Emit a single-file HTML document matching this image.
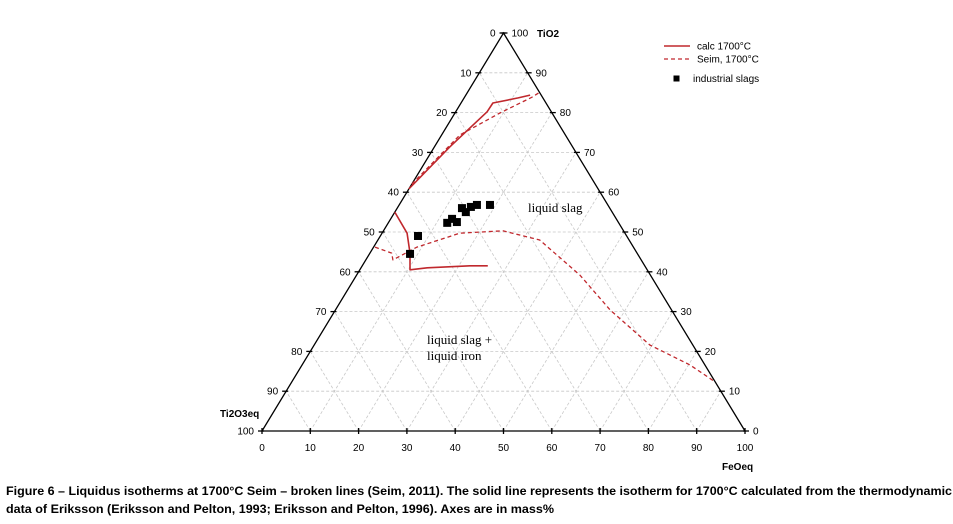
<!DOCTYPE html>
<html><head><meta charset="utf-8"><style>
body{margin:0;background:#fff;width:953px;height:519px;overflow:hidden}
svg text{font-family:"Liberation Sans",sans-serif}
</style></head><body>
<svg id="chart" width="953" height="519" xmlns="http://www.w3.org/2000/svg">
<g id="grid"></g>
<g id="axes"></g>
<g id="series"></g>
<g font-size="10">
<line x1="664" y1="46" x2="690" y2="46" stroke="#c0282d" stroke-width="1.6"/>
<text x="697" y="49.5">calc 1700°C</text>
<line x1="664" y1="59" x2="690" y2="59" stroke="#c0282d" stroke-width="1.3" stroke-dasharray="4,3"/>
<text x="697" y="62.5">Seim, 1700°C</text>
<rect x="673.5" y="75.5" width="6" height="6" fill="#000"/>
<text x="693" y="82">industrial slags</text>
</g>
<text x="528" y="212" font-size="13" style="font-family:'Liberation Serif',serif">liquid slag</text>
<text x="427" y="344" font-size="13" style="font-family:'Liberation Serif',serif">liquid slag +</text>
<text x="427" y="360" font-size="13" style="font-family:'Liberation Serif',serif">liquid iron</text>
<text x="537" y="37" font-size="10" font-weight="bold">TiO2</text>
<text x="220" y="417" font-size="10" font-weight="bold">Ti2O3eq</text>
<text x="722" y="470" font-size="10" font-weight="bold">FeOeq</text>
<text x="6" y="495" font-size="11.5" font-weight="bold" textLength="946" lengthAdjust="spacingAndGlyphs">Figure 6 – Liquidus isotherms at 1700°C Seim – broken lines (Seim, 2011). The solid line represents the isotherm for 1700°C calculated from the thermodynamic</text>
<text x="6" y="513" font-size="11.5" font-weight="bold" textLength="548" lengthAdjust="spacingAndGlyphs">data of Eriksson (Eriksson and Pelton, 1993; Eriksson and Pelton, 1996).  Axes are in mass%</text>
</svg>
<script>
const ticks=[0,10,20,30,40,50,60,70,80,90,100];
const calcUpperFeO=[0,3.2,6.5,6.6,11.2,13.3];
const calcUpperTiO2=[60.8,71.4,80.2,82.4,83.7,84.4];
const seimUpperFeO=[0,3.8,9.3,14,15];
const seimUpperTiO2=[62,74.4,79.9,83.9,85.2];
const calcLowerFeO=[0,5.2,8.3,10.4,13.7,22.3,26];
const calcLowerTiO2=[55,49.7,44.7,40.5,41,41.5,41.5];
const seimLowerFeO=[0.3,4.5,5.6,9,16.1,24.7,33.5,46.2,56.9,69.5,80.3,87.7];
const seimLowerTiO2=[46.2,44.7,43,46.2,49.7,50.3,48,39.2,30.4,21.6,16.6,12.3];
const slagFeO=[8.4,7.8,12.2,12.7,14.1,13.4,14.7,15.1,16.1,18.8];
const slagTiO2=[44.5,49,52.3,53.3,52.5,56,55,56.3,56.8,56.8];

const L=262,R=745,B=431,T=33,W=R-L,H=B-T;
function px(f,t){return L+f*W/100+t*W/200;}
function py(f,t){return B-t*H/100;}
const NS='http://www.w3.org/2000/svg';
function mk(tag,attrs,parent){const e=document.createElementNS(NS,tag);for(const k in attrs)e.setAttribute(k,attrs[k]);parent.appendChild(e);return e;}
const grid=document.getElementById('grid'),axes=document.getElementById('axes'),series=document.getElementById('series');
const gs={stroke:'#c8c8c8','stroke-width':0.8,'stroke-dasharray':'3,2',fill:'none'};
for(let i=1;i<10;i++){const v=ticks[i];
 let a=mk('line',Object.assign({x1:px(0,v),y1:py(0,v),x2:px(100-v,v),y2:py(100-v,v)},gs),grid);
 
 let b=mk('line',Object.assign({x1:px(v,0),y1:py(v,0),x2:px(v,100-v),y2:py(v,100-v)},gs),grid);
 
 let c=mk('line',Object.assign({x1:px(100-v,0),y1:py(100-v,0),x2:px(0,100-v),y2:py(0,100-v)},gs),grid);
 
}
const tri=mk('polygon',{points:`${L},${B} ${R},${B} ${px(0,100)},${T}`,fill:'none',stroke:'#000','stroke-width':1.3},axes);


ticks.forEach(v=>{
 let x=px(v,0);
 let tk=mk('line',{x1:x,y1:B-3,x2:x,y2:B+3,stroke:'#000','stroke-width':1.3},axes);
 
 let t=mk('text',{x:x,y:B+20,'font-size':10,'text-anchor':'middle'},axes);t.textContent=v;
 
 let tl=100-v, ly=py(0,tl), lx=px(0,tl);
 let tk2=mk('line',{x1:lx-4,y1:ly,x2:lx+2,y2:ly,stroke:'#000','stroke-width':1.3},axes);
 
 let t2=mk('text',{x:lx-8,y:ly+3.5,'font-size':10,'text-anchor':'end'},axes);t2.textContent=v;
 
 let rx=px(100-v,v), ry=py(100-v,v);
 let tk3=mk('line',{x1:rx-2,y1:ry,x2:rx+4,y2:ry,stroke:'#000','stroke-width':1.3},axes);
 
 let t3=mk('text',{x:rx+8,y:ry+3.5,'font-size':10},axes);t3.textContent=v;
 
});
function line(F,Tt,dash,name){
 const d=F.map((f,i)=>(i?'L':'M')+px(f,Tt[i]).toFixed(1)+','+py(f,Tt[i]).toFixed(1)).join(' ');
 const p=mk('path',{d:d,fill:'none',stroke:'#c0282d','stroke-width':dash?1.3:1.6,'stroke-linejoin':'round'},series);
 if(dash)p.setAttribute('stroke-dasharray','4,3');
 
 
}
line(calcUpperFeO,calcUpperTiO2,false,'calc-1700-upper-line');
line(calcLowerFeO,calcLowerTiO2,false,'calc-1700-lower-line');
line(seimUpperFeO,seimUpperTiO2,true,'seim-1700-upper-line');
line(seimLowerFeO,seimLowerTiO2,true,'seim-1700-lower-line');
slagFeO.forEach((f,i)=>{
 const r=mk('rect',{x:px(f,slagTiO2[i])-4,y:py(f,slagTiO2[i])-4,width:8,height:8,fill:'#000'},series);
 
 
});
</script>
</body></html>
